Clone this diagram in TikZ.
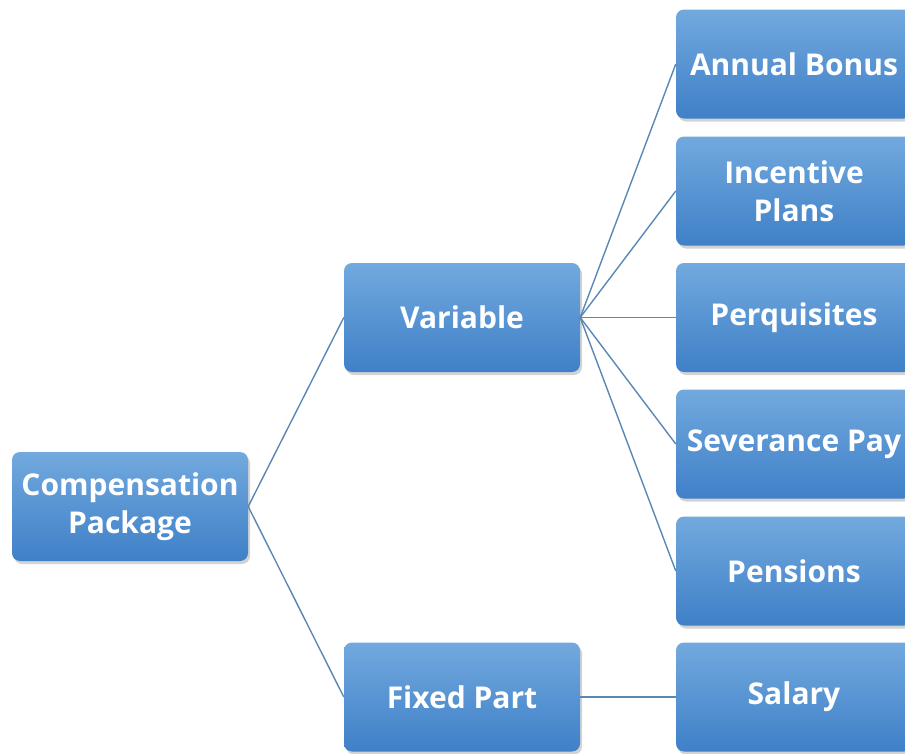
\documentclass[tikz,border=0pt]{standalone}
\usepackage{fontspec}
\setmainfont{Open Sans}
\usetikzlibrary{shadows}

\definecolor{boxtop}{HTML}{72A9DE}
\definecolor{boxbottom}{HTML}{3F80C8}
\definecolor{linkblue}{HTML}{5A87B5}

\begin{document}
\begin{tikzpicture}[
      x=1pt, y=-1pt,
      box/.style={
        rectangle,
        rounded corners=8pt,
        minimum width=236pt,
        minimum height=109pt,
        top color=boxtop,
        bottom color=boxbottom,
        draw=none,
        text=white,
        align=center,
        font=\fontsize{30}{38}\selectfont\bfseries,
        drop shadow={opacity=0.35, shadow xshift=2pt, shadow yshift=-3pt}
      },
      link/.style={
        draw=linkblue,
        line width=1.4pt
      },
    ]

    \clip (0,0) rectangle (905,753);

    \node [box] (package) at (130,506.5) {Compensation\\Package};

    \node [box] (variable) at (462,317.5) {Variable};
    \node [box] (fixed) at (462,697) {Fixed Part};

    \node [box] (bonus) at (794,64) {Annual Bonus};
    \node [box] (incentive) at (794,191) {Incentive\\Plans};
    \node [box] (perks) at (794,317.5) {Perquisites};
    \node [box] (severance) at (794,444) {Severance Pay};
    \node [box] (pensions) at (794,571) {Pensions};
    \node [box] (salary) at (794,697) {Salary};

    \draw [link] (package.east) -- (variable.west);
    \draw [link] (package.east) -- (fixed.west);

    \foreach \leaf in {bonus, incentive, perks, severance, pensions}
      \draw [link] (variable.east) -- (\leaf.west);
    \draw [link] (fixed.east) -- (salary.west);
  \end{tikzpicture}
\end{document}
